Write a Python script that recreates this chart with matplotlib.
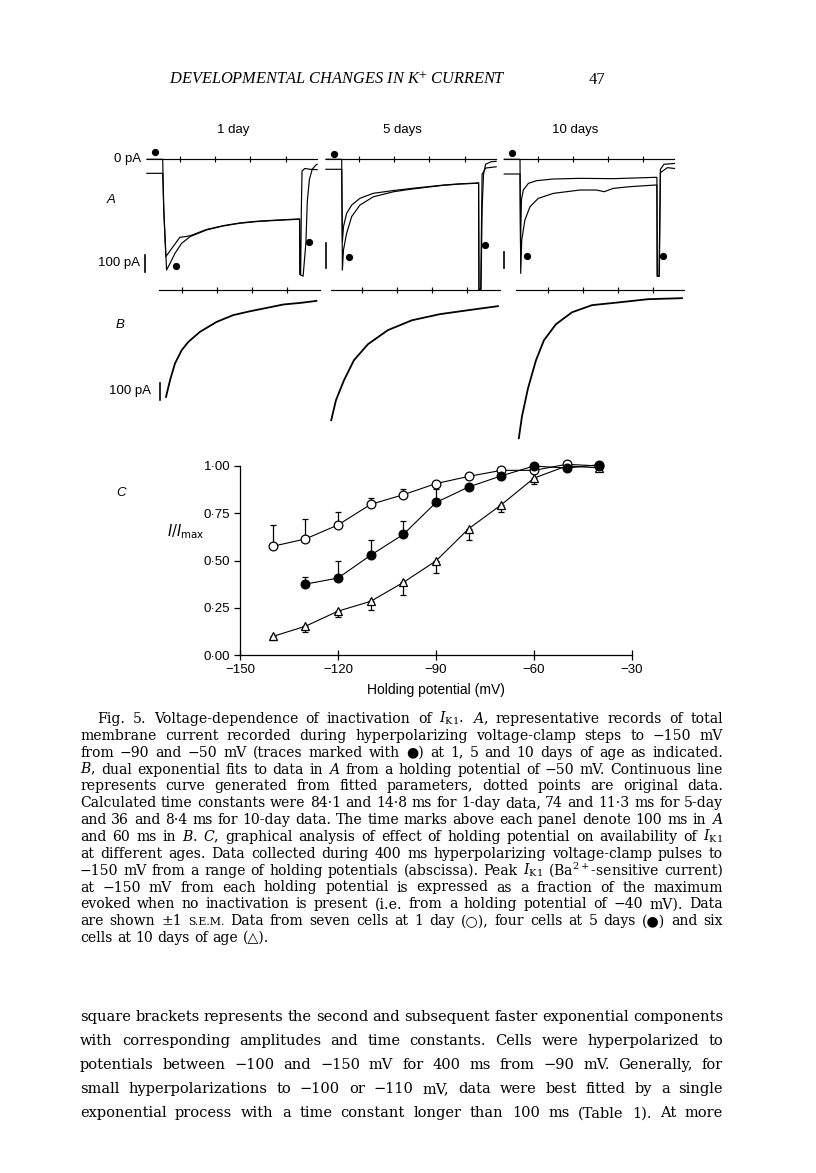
import matplotlib
matplotlib.use("Agg")
import matplotlib.pyplot as plt

W, H = 816, 1173
plt.rcParams["mathtext.fontset"] = "dejavuserif"
SANS = ["Liberation Sans", "DejaVu Sans"]
SERIF = ["DejaVu Serif"]
HEAD = ["Liberation Serif", "DejaVu Serif"]

# ---- panel C: availability of I_K1 vs holding potential ----
holding_mv = [-140, -130, -120, -110, -100, -90, -80, -70, -60, -50, -40]
day1 = [0.575, 0.614, 0.688, 0.797, 0.848, 0.907, 0.945, 0.977, 0.977, 1.009, 1.0]
day1_sem = [0.111, 0.104, 0.066, 0.033, 0.031, 0.012, 0, 0, 0, 0, 0]
day5_mv = [-130, -120, -110, -100, -90, -80, -70, -60, -50, -40]
day5 = [0.375, 0.407, 0.528, 0.638, 0.807, 0.889, 0.948, 1.0, 0.989, 1.007]
day5_sem = [0.039, 0.091, 0.083, 0.071, 0.072, 0, 0, 0, 0, 0]
day10 = [0.098, 0.152, 0.232, 0.284, 0.384, 0.498, 0.668, 0.795, 0.936, 1.0, 0.99]
day10_sem = [0.02, 0.032, 0.032, 0.048, 0.068, 0.062, 0.057, 0.041, 0.03, 0, 0]
c_xticks = [-150, -120, -90, -60, -30]
c_yticks = [0.0, 0.25, 0.5, 0.75, 1.0]
c_ylabels = ["0·00", "0·25", "0·50", "0·75", "1·00"]

# ---- panel A: current records (ms, pA), from -50 mV and -90 mV ----
a1_t50 = [-45, 0, 3, 11, 21, 35, 54, 78, 125, 173, 220, 268, 315, 360, 390, 391, 400, 408, 412, 418, 426, 436, 440]
a1_i50 = [0, 0, -300, -663, -623, -563, -503, -463, -423, -399, -383, -373, -367, -362, -359, -690, -700, -500, -250, -120, -60, -35, -30]
a1_t90 = [-45, 0, 3, 9, 26, 40, 49, 64, 78, 125, 173, 220, 268, 315, 360, 390, 391, 393, 395, 397, 405, 420, 440]
a1_i90 = [-84, -84, -300, -583, -533, -493, -467, -463, -458, -420, -397, -381, -371, -365, -360, -357, -690, -690, -300, -70, -55, -60, -62]
a2_t50 = [-45, 0, 2, 5, 14, 28.5, 52, 90, 147, 195, 242, 290, 337, 384, 390, 391, 397, 400, 404, 410, 425, 440]
a2_i50 = [0, 0, -443, -363, -296, -229, -183, -150, -130, -120, -112, -104, -99, -96, -95, -520, -520, -200, -60, -20, -10, -8]
a2_t90 = [-45, 0, 2, 5, 14, 28.5, 52, 90, 147, 195, 242, 290, 337, 384, 390, 391, 396, 400, 410, 440]
a2_i90 = [-40, -40, -330, -270, -216, -183, -156, -136, -125, -117, -110, -103, -98, -95, -94, -520, -520, -60, -35, -30]
a3_t50 = [-45, 0, 2, 5, 14, 28.5, 52, 95, 171, 218, 240, 266, 313, 386, 390, 391, 397, 400, 410, 440]
a3_i50 = [0, 0, -683, -483, -363, -284, -234, -204, -184, -184, -194, -174, -164, -154, -154, -700, -700, -60, -30, -25]
a3_t90 = [-45, 0, 1.5, 4, 9.4, 24, 47, 95, 171, 266, 386, 390, 391, 396, 400, 420, 440]
a3_i90 = [-88, -88, -500, -244, -184, -144, -128, -118, -114, -116, -108, -108, -700, -700, -80, -50, -55]
a_ticks_ms = [50, 150, 250, 350]
a1_dots_t, a1_dots_i = [-22, 38, 418], [42, -637, -493]
a2_dots_t, a2_dots_i = [-22, 22, 408], [21, -392, -343]
a3_dots_t, a3_dots_i = [-22, 19, 407], [36, -579, -579]

# ---- panel B: fitted decays (ms, pA) ----
b1_t = [0, 6.9, 15.4, 26.9, 38.4, 58.3, 86.6, 115, 144, 173, 201.7, 230, 258]
b1_i = [-632, -534, -435, -357, -308, -249, -191, -151, -128, -108, -88, -79, -67]
b2_t = [0, 8.2, 21.9, 39, 63, 97.3, 138.5, 186.5, 234.5, 286]
b2_i = [-769, -651, -534, -416, -322, -239, -181, -145, -122, -98]
b3_t = [0, 5.5, 15.8, 29.5, 43.2, 63.8, 91.3, 125.6, 173.6, 221.6, 279.9]
b3_i = [-875, -745, -581, -416, -298, -204, -134, -92, -75, -57, -51]
b1_ticks, b2_ticks, b3_ticks = [28, 88, 148, 208], [53, 113, 173, 233], [50, 110, 170, 230]
b_spans = [(-11.5, 264), (0, 290), (-4.8, 283)]

ages = ["1 day", "5 days", "10 days"]

caption = [
    r"Fig. 5. Voltage-dependence of inactivation of $I_\mathrm{K1}$. $A$, representative records of total",
    "membrane current recorded during hyperpolarizing voltage-clamp steps to −150 mV",
    "from −90 and −50 mV (traces marked with ●) at 1, 5 and 10 days of age as indicated.",
    r"$B$, dual exponential fits to data in $A$ from a holding potential of −50 mV. Continuous line",
    "represents curve generated from fitted parameters, dotted points are original data.",
    "Calculated time constants were 84·1 and 14·8 ms for 1-day data, 74 and 11·3 ms for 5-day",
    r"and 36 and 8·4 ms for 10-day data. The time marks above each panel denote 100 ms in $A$",
    r"and 60 ms in $B$. $C$, graphical analysis of effect of holding potential on availability of $I_\mathrm{K1}$",
    "at different ages. Data collected during 400 ms hyperpolarizing voltage-clamp pulses to",
    r"−150 mV from a range of holding potentials (abscissa). Peak $I_\mathrm{K1}$ (Ba$^{2+}$-sensitive current)",
    "at −150 mV from each holding potential is expressed as a fraction of the maximum",
    "evoked when no inactivation is present (i.e. from a holding potential of −40 mV). Data",
    "are shown ±1 S.E.M. Data from seven cells at 1 day (○), four cells at 5 days (●) and six",
    "cells at 10 days of age (△).",
]
body = [
    "square brackets represents the second and subsequent faster exponential components",
    "with corresponding amplitudes and time constants. Cells were hyperpolarized to",
    "potentials between −100 and −150 mV for 400 ms from −90 mV. Generally, for",
    "small hyperpolarizations to −100 or −110 mV, data were best fitted by a single",
    "exponential process with a time constant longer than 100 ms (Table 1). At more",
]

fig = plt.figure(figsize=(W / 100, H / 100), dpi=100)


def box_axes(x0, y0, x1, y1):
    ax = fig.add_axes([x0 / W, 1 - y1 / H, (x1 - x0) / W, (y1 - y0) / H])
    ax.patch.set_visible(False)
    return ax


def trace_axes(box, onset_px, zero_px, px_ms, px_pa):
    x0, y0, x1, y1 = box
    ax = box_axes(*box)
    ax.set_xlim((x0 - onset_px) / px_ms, (x1 - onset_px) / px_ms)
    ax.set_ylim(-(y1 - zero_px) / px_pa, (zero_px - y0) / px_pa)
    ax.axis("off")
    return ax


lw = 0.85
# panel A
a_data = [
    (a1_t50, a1_i50, a1_t90, a1_i90, a1_dots_t, a1_dots_i),
    (a2_t50, a2_i50, a2_t90, a2_i90, a2_dots_t, a2_dots_i),
    (a3_t50, a3_i50, a3_t90, a3_i90, a3_dots_t, a3_dots_i),
]
a_boxes = [(140, 140, 320, 300), (320, 140, 500, 300), (500, 140, 682, 300)]
a_onsets = [162.7, 341.7, 520.0]
a_gain = [0.167, 0.25, 0.167]
a_bar_t = [-50.4, -45.6, -44.7]
a_bar_i = [-573, -335, -553]
for k in range(3):
    t50, i50, t90, i90, dt, di = a_data[k]
    ax = trace_axes(a_boxes[k], a_onsets[k], 159.3, 0.351, a_gain[k])
    ax.plot([-45, 440], [0, 0], color="k", lw=lw)
    ax.plot(a_ticks_ms, [0] * 4, "|", color="k", ms=5, mew=lw)
    ax.plot(t50, i50, color="k", lw=lw)
    ax.plot(t90, i90, color="k", lw=lw)
    ax.plot(dt, di, "o", color="k", ms=4.2)
    ax.plot([a_bar_t[k]] * 2, [a_bar_i[k], a_bar_i[k] - 100], color="k", lw=1.2)

# panel B
b_data = [(b1_t, b1_i, b1_ticks), (b2_t, b2_i, b2_ticks), (b3_t, b3_i, b3_ticks)]
b_boxes = [(150, 280, 325, 450), (325, 280, 505, 450), (505, 280, 690, 450)]
b_onsets = [166.0, 331.2, 518.8]
for k in range(3):
    bt, bi, bticks = b_data[k]
    ax = trace_axes(b_boxes[k], b_onsets[k], 289.5, 0.583, 0.17)
    ax.plot(b_spans[k], [0, 0], color="k", lw=lw)
    ax.plot(bticks, [0] * 4, "|", color="k", ms=5, mew=lw)
    ax.plot(bt, bi, color="k", lw=1.3)
    if k == 0:
        ax.plot([-10.3, -10.3], [-551, -651], color="k", lw=1.2)

# panel C
axc = box_axes(240, 466, 632, 655)
axc.set_xlim(-150, -30)
axc.set_ylim(0, 1.0)
for s in ["top", "right"]:
    axc.spines[s].set_visible(False)
for s in ["left", "bottom"]:
    axc.spines[s].set_linewidth(0.9)
axc.set_xticks(c_xticks)
axc.set_xticklabels([str(v).replace("-", "−") for v in c_xticks], fontsize=9.5, family=SANS)
axc.set_yticks(c_yticks)
axc.set_yticklabels(c_ylabels, fontsize=9.5, family=SANS)
axc.tick_params(axis="x", direction="inout", length=7, width=0.9, pad=3)
axc.tick_params(axis="y", direction="out", length=4, width=0.9, pad=3)
zero1 = [0] * len(day1)
zero5 = [0] * len(day5)
ekw = dict(fmt="none", ecolor="k", elinewidth=0.9, capsize=2.2, capthick=0.9, zorder=2, clip_on=False)
axc.errorbar(holding_mv, day1, yerr=[zero1, day1_sem], **ekw)
axc.errorbar(day5_mv, day5, yerr=[zero5, day5_sem], **ekw)
axc.errorbar(holding_mv, day10, yerr=[day10_sem, zero1], **ekw)
mkw = dict(color="k", lw=0.8, ms=6.3, mew=0.9, zorder=3, clip_on=False)
axc.plot(holding_mv, day10, marker="^", mfc="white", **mkw)
axc.plot(holding_mv, day1, marker="o", mfc="white", **mkw)
axc.plot(day5_mv, day5, marker="o", mfc="k", **mkw)
axc.set_xlabel("Holding potential (mV)", fontsize=10, family=SANS, labelpad=5)

# text overlay in page pixels
ov = box_axes(0, 0, W, H)
ov.set_xlim(0, W)
ov.set_ylim(H, 0)
ov.axis("off")

ov.text(338, 80, "DEVELOPMENTAL CHANGES IN K$^{+}$ CURRENT", fontsize=11.8, family=HEAD,
        style="italic", ha="center", va="center", math_fontfamily="stix")
ov.text(597, 80, "47", fontsize=12, family=HEAD, ha="center", va="center")
for x, lab in zip([233, 402, 575], ages):
    ov.text(x, 130, lab, fontsize=9.5, family=SANS, ha="center", va="center")
ov.text(141, 159, "0 pA", fontsize=9.5, family=SANS, ha="right", va="center")
ov.text(111, 200, "A", fontsize=9.5, family=SANS, style="italic", ha="center", va="center")
ov.text(140, 263, "100 pA", fontsize=9.5, family=SANS, ha="right", va="center")
ov.text(120, 325, "B", fontsize=9.5, family=SANS, style="italic", ha="center", va="center")
ov.text(151, 391, "100 pA", fontsize=9.5, family=SANS, ha="right", va="center")
ov.text(121, 493, "C", fontsize=9.5, family=SANS, style="italic", ha="center", va="center")
ov.text(205, 532, r"$I/I_{\mathrm{max}}$", fontsize=10.5, math_fontfamily="dejavusans",
        ha="right", va="center")

renderer = fig.canvas.get_renderer()


def word_size(w, size):
    return size * 0.78 if w == "S.E.M." else size


def measure(words, size):
    widths = []
    for w in words:
        t = ov.text(0, 0, w, fontsize=word_size(w, size), family=SERIF)
        widths.append(t.get_window_extent(renderer).width)
        t.remove()
    return widths


def fit_size(lines, width, size):
    # largest size at which every full line still fits with normal spaces
    space = 0.318 * size * 100 / 72
    best = size * 10
    for line in lines[:-1]:
        words = line.split(" ")
        natural = sum(measure(words, size)) + space * (len(words) - 1)
        best = min(best, size * width / natural)
    return best


def justify(line, x0, x1, y, size, last=False):
    words = line.split(" ")
    widths = measure(words, size)
    if last:
        gap = 0.318 * size * 100 / 72
    else:
        gap = (x1 - x0 - sum(widths)) / (len(words) - 1)
    x = x0
    for w, wd in zip(words, widths):
        ov.text(x, y, w, fontsize=word_size(w, size), family=SERIF, ha="left", va="baseline")
        x += wd + gap


cap_size = min(fit_size(caption, 643, 10), 10.6)
for i, line in enumerate(caption):
    x0 = 97 if i == 0 else 80
    justify(line, x0, 723, 723 + 16.85 * i, cap_size, last=(i == len(caption) - 1))
body_size = fit_size(body, 643, 12)
for i, line in enumerate(body):
    justify(line, 80, 723, 1021 + 24.1 * i, body_size)

fig.savefig("out.png", dpi=100)
